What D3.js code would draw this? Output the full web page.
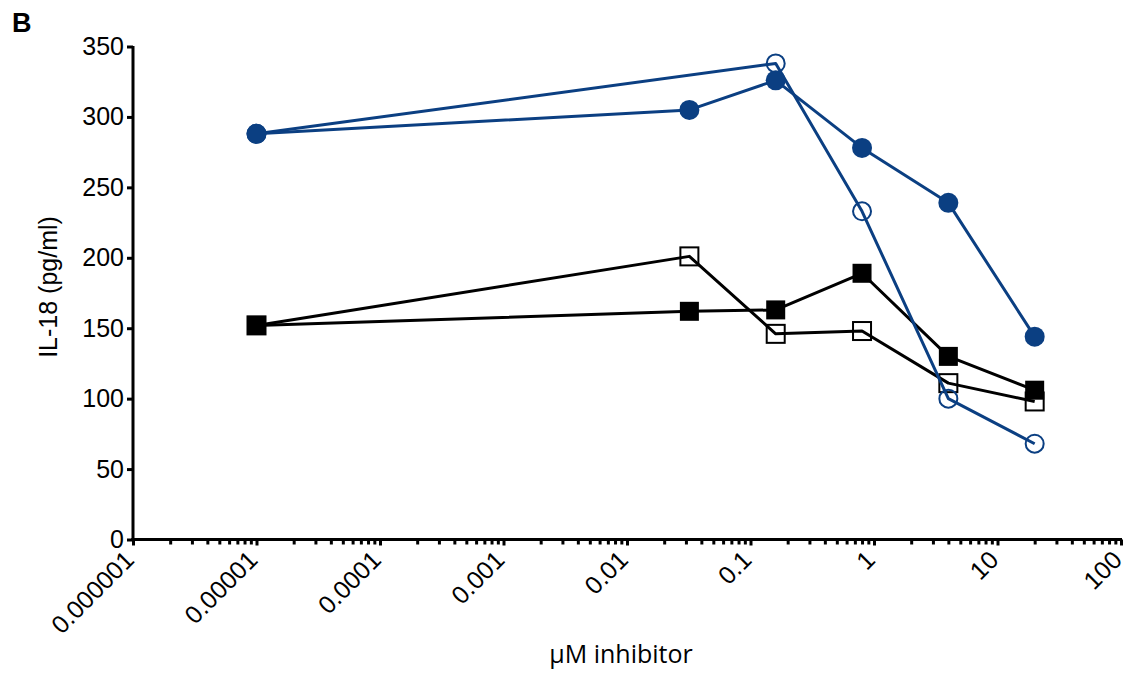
<!DOCTYPE html>
<html><head><meta charset="utf-8">
<script src="https://cdn.jsdelivr.net/npm/d3@7"></script>
<style>body{margin:0;background:#fff}svg{display:block}</style>
</head><body>
<svg id="c" width="1136" height="675"></svg>
<script>
const doses = [0.00001, 0.032, 0.16, 0.8, 4, 20];
const blueFilled = [288, 305, 326, 278, 239, 144];
const blueOpen = [288, null, 338, 233, 100, 68];
const blackFilled = [152, 162, 163, 189, 130, 106];
const blackOpen = [152, 201, 146, 148, 111, 98];
const xTickValues = [1e-6, 1e-5, 1e-4, 1e-3, 1e-2, 1e-1, 1, 10, 100];
const xTickLabels = ["0.000001", "0.00001", "0.0001", "0.001", "0.01", "0.1", "1", "10", "100"];
const yTickValues = [0, 50, 100, 150, 200, 250, 300, 350];

const BLUE = "#0b3f82";
const svg = d3.select("#c");
const x = d3.scaleLog().domain([1e-6, 100]).range([133, 1121]);
const y = d3.scaleLinear().domain([0, 350]).range([539.5, 46.5]);
const font = "'Liberation Sans', Arial, sans-serif";

// minor ticks
const minor = [];
for (let e = -6; e < 2; e++) for (let m = 2; m <= 9; m++) minor.push(m * Math.pow(10, e));

const xAxis = svg.append("g").attr("transform", "translate(0,539.5)");
xAxis.call(d3.axisBottom(x).tickValues(minor).tickSize(5).tickFormat(""));
xAxis.append("g").call(d3.axisBottom(x).tickValues(xTickValues).tickSize(6).tickFormat((d, i) => xTickLabels[i]));
xAxis.selectAll(".domain").attr("stroke", "#000").attr("stroke-width", 3).attr("d", "M131.5,0H1122");
xAxis.selectAll(".tick line").attr("stroke", "#000").attr("stroke-width", 3);
xAxis.selectAll(".tick text")
  .attr("font-family", font).attr("font-size", 25).attr("fill", "#000")
  .attr("text-anchor", "end").attr("dy", 0).attr("y", 0)
  .attr("transform", "translate(2,22) rotate(-45)");

const yAxis = svg.append("g").attr("transform", "translate(133,0)");
yAxis.call(d3.axisLeft(y).tickValues(yTickValues).tickSize(6).tickPadding(3));
yAxis.selectAll(".domain").attr("stroke", "#000").attr("stroke-width", 3).attr("d", "M0,46H0V541");
yAxis.selectAll(".tick line").attr("stroke", "#000").attr("stroke-width", 3);
yAxis.selectAll(".tick text").attr("font-family", font).attr("font-size", 25).attr("fill", "#000");

// titles
svg.append("text").attr("x", 12).attr("y", 32).attr("font-family", font).attr("font-weight", "bold")
  .attr("font-size", 27).text("B");
svg.append("text").attr("transform", "translate(57,287) rotate(-90)").attr("text-anchor", "middle")
  .attr("font-family", font).attr("font-size", 25).text("IL-18 (pg/ml)");
svg.append("text").attr("x", 621).attr("y", 663).attr("text-anchor", "middle")
  .attr("font-family", "'Open Sans', sans-serif").attr("font-size", 25).text("µM inhibitor");

const line = d3.line().x(d => x(d[0])).y(d => y(d[1]));
function series(vals, color, shape, filled) {
  const pts = doses.map((d, i) => [d, vals[i]]).filter(p => p[1] != null);
  const g = svg.append("g");
  g.append("path").datum(pts).attr("d", line).attr("fill", "none").attr("stroke", color).attr("stroke-width", 3).attr("stroke-linejoin", "round");
  if (shape === "circle") {
    g.selectAll("circle").data(pts).join("circle")
      .attr("cx", d => x(d[0])).attr("cy", d => y(d[1]))
      .attr("r", filled ? 10 : 9)
      .attr("fill", filled ? color : "none").attr("stroke", color).attr("stroke-width", filled ? 0 : 2);
  } else {
    const s = filled ? 19 : 18;
    g.selectAll("rect").data(pts).join("rect")
      .attr("x", d => x(d[0]) - s / 2).attr("y", d => y(d[1]) - s / 2)
      .attr("width", s).attr("height", s)
      .attr("fill", filled ? color : "none").attr("stroke", color).attr("stroke-width", filled ? 0 : 2);
  }
}
series(blackOpen, "#000", "square", false);
series(blackFilled, "#000", "square", true);
series(blueOpen, BLUE, "circle", false);
series(blueFilled, BLUE, "circle", true);
</script>
</body></html>
